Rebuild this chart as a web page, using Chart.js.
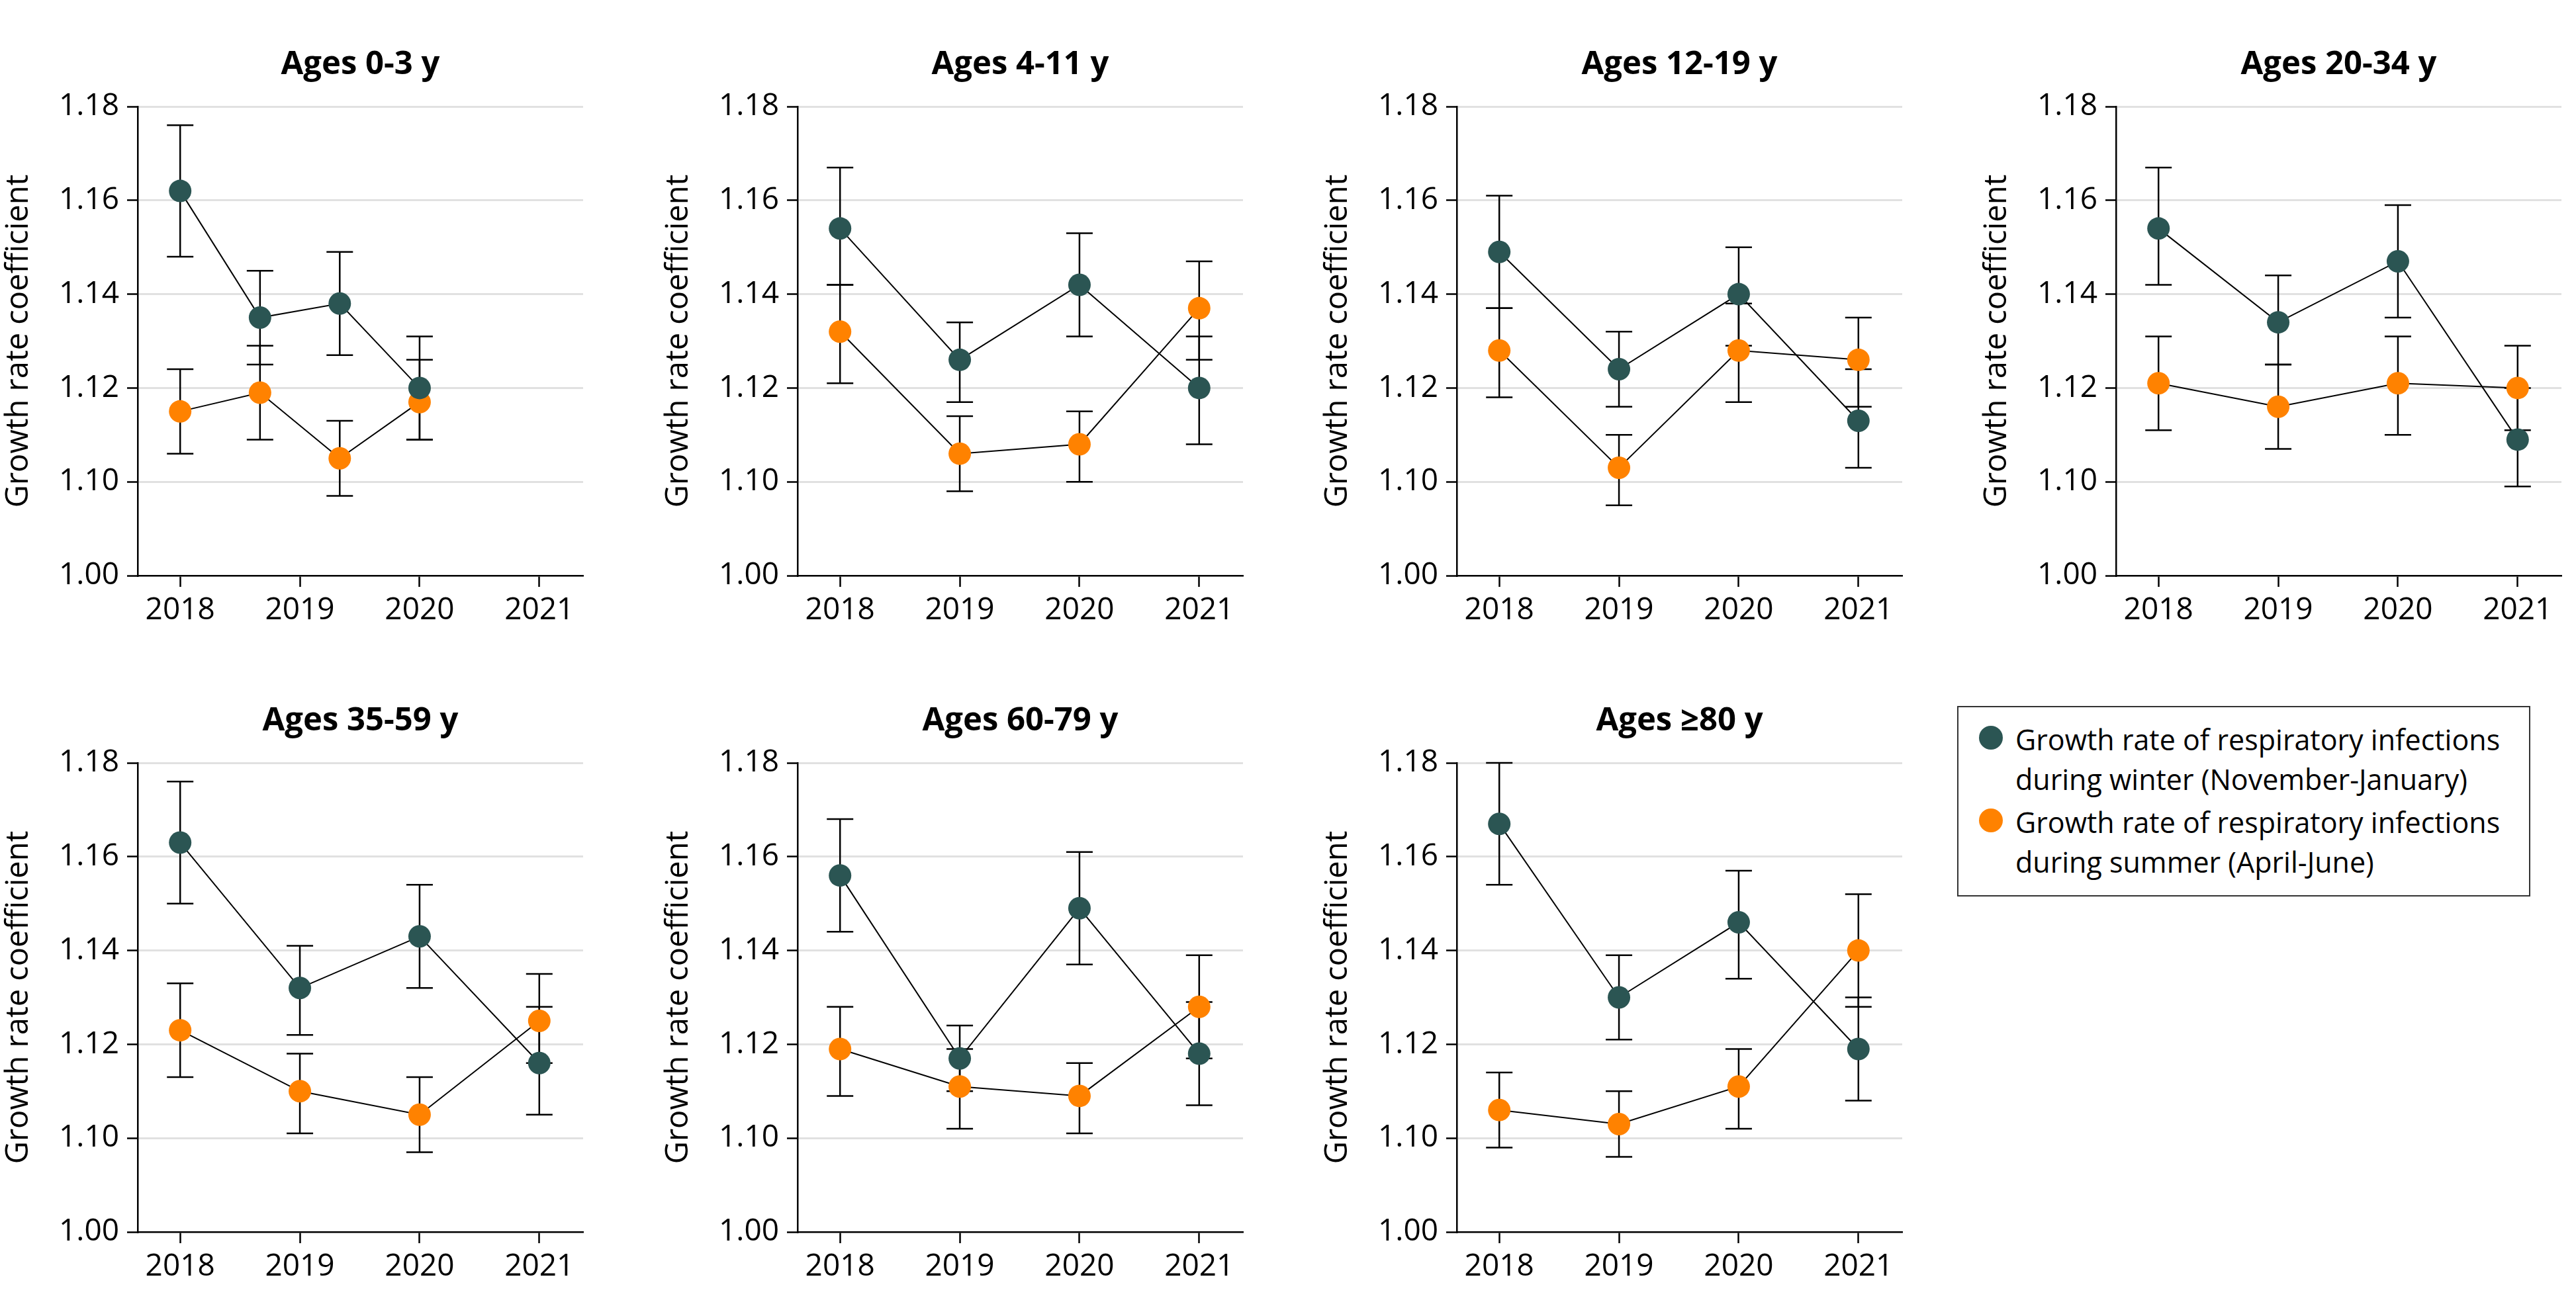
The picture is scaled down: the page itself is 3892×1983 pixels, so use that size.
<!DOCTYPE html>
<html>
<head>
<meta charset="utf-8">
<script src="https://cdn.jsdelivr.net/npm/chart.js@4.4.1/dist/chart.umd.min.js"></script>
<style>
  body {
    margin: 0;
    background: #fff;
    width: 3892px;
    height: 1983px;
    overflow: hidden;
    position: relative;
    font-family: 'Open Sans', sans-serif;
  }
  canvas.panel { position: absolute; }
  #legend {
    position: absolute;
    left: 2957px;
    top: 1067px;
    width: 866px;
    height: 288px;
    box-sizing: border-box;
    border: 2.5px solid #333;
  }
  #legend .item { position: absolute; left: 0; }
  #legend .dot {
    position: absolute;
    left: 31px;
    top: 9px;
    width: 36px;
    height: 36px;
    border-radius: 50%;
  }
  #legend .label {
    position: absolute;
    left: 86px;
    top: 0;
    white-space: nowrap;
    font-size: 43px;
    line-height: 60px;
    color: #000;
  }
</style>
</head>
<body>
<div id="legend">
  <div class="item" style="top: 19px;">
    <span class="dot" style="background: #2b5553;"></span>
    <span class="label">Growth rate of respiratory infections<br>during winter (November-January)</span>
  </div>
  <div class="item" style="top: 144px;">
    <span class="dot" style="background: #ff8200;"></span>
    <span class="label">Growth rate of respiratory infections<br>during summer (April-June)</span>
  </div>
</div>
<script>
// panel titles
const panelTitles = ['Ages 0-3 y', 'Ages 4-11 y', 'Ages 12-19 y', 'Ages 20-34 y',
  'Ages 35-59 y', 'Ages 60-79 y', 'Ages \u226580 y'];

// x positions of the points (first panel is plotted off the year ticks)
const xPositions = [
  [2018, 2018.667, 2019.333, 2020],
  [2018, 2019, 2020, 2021],
  [2018, 2019, 2020, 2021],
  [2018, 2019, 2020, 2021],
  [2018, 2019, 2020, 2021],
  [2018, 2019, 2020, 2021],
  [2018, 2019, 2020, 2021]
];

const yearTicks = [2018, 2019, 2020, 2021];
// broken axis: the lowest tick sits one step below 1.10 but reads 1.00
const yTickValues = [1.08, 1.10, 1.12, 1.14, 1.16, 1.18];
const yTickLabels = ['1.00', '1.10', '1.12', '1.14', '1.16', '1.18'];

// winter (November-January)
const winterMean = [
  [1.162, 1.135, 1.138, 1.120],
  [1.154, 1.126, 1.142, 1.120],
  [1.149, 1.124, 1.140, 1.113],
  [1.154, 1.134, 1.147, 1.109],
  [1.163, 1.132, 1.143, 1.116],
  [1.156, 1.117, 1.149, 1.118],
  [1.167, 1.130, 1.146, 1.119]
];
const winterLow = [
  [1.148, 1.125, 1.127, 1.109],
  [1.142, 1.117, 1.131, 1.108],
  [1.137, 1.116, 1.129, 1.103],
  [1.142, 1.125, 1.135, 1.099],
  [1.150, 1.122, 1.132, 1.105],
  [1.144, 1.110, 1.137, 1.107],
  [1.154, 1.121, 1.134, 1.108]
];
const winterHigh = [
  [1.176, 1.145, 1.149, 1.131],
  [1.167, 1.134, 1.153, 1.131],
  [1.161, 1.132, 1.150, 1.124],
  [1.167, 1.144, 1.159, 1.120],
  [1.176, 1.141, 1.154, 1.128],
  [1.168, 1.124, 1.161, 1.129],
  [1.180, 1.139, 1.157, 1.130]
];

// summer (April-June)
const summerMean = [
  [1.115, 1.119, 1.105, 1.117],
  [1.132, 1.106, 1.108, 1.137],
  [1.128, 1.103, 1.128, 1.126],
  [1.121, 1.116, 1.121, 1.120],
  [1.123, 1.110, 1.105, 1.125],
  [1.119, 1.111, 1.109, 1.128],
  [1.106, 1.103, 1.111, 1.140]
];
const summerLow = [
  [1.106, 1.109, 1.097, 1.109],
  [1.121, 1.098, 1.100, 1.126],
  [1.118, 1.095, 1.117, 1.116],
  [1.111, 1.107, 1.110, 1.111],
  [1.113, 1.101, 1.097, 1.116],
  [1.109, 1.102, 1.101, 1.117],
  [1.098, 1.096, 1.102, 1.128]
];
const summerHigh = [
  [1.124, 1.129, 1.113, 1.126],
  [1.142, 1.114, 1.115, 1.147],
  [1.137, 1.110, 1.138, 1.135],
  [1.131, 1.125, 1.131, 1.129],
  [1.133, 1.118, 1.113, 1.135],
  [1.128, 1.119, 1.116, 1.139],
  [1.114, 1.110, 1.119, 1.152]
];

const WINTER_COLOR = '#2b5553';
const SUMMER_COLOR = '#ff8200';

// plot area placement on the page
const colLeft = [208, 1205, 2201, 3197];
const rowTop = [161, 1153];
const AXIS_W = 208;
const TOP_SPACE = 130;
const PLOT_W = 682;
const PLOT_H = 709;
const BOTTOM_SPACE = 100;

Chart.defaults.font.family = "'Open Sans', sans-serif";
Chart.defaults.color = '#000';

const errorBars = {
  id: 'errorBars',
  beforeDatasetsDraw(chart) {
    const { ctx, scales: { x, y } } = chart;
    ctx.save();
    ctx.strokeStyle = '#000';
    ctx.lineWidth = 2.5;
    chart.data.datasets.forEach(ds => {
      ds.data.forEach(pt => {
        const px = x.getPixelForValue(pt.x);
        const top = y.getPixelForValue(pt.high);
        const bottom = y.getPixelForValue(pt.low);
        ctx.beginPath();
        ctx.moveTo(px, top);
        ctx.lineTo(px, bottom);
        ctx.moveTo(px - 20, top);
        ctx.lineTo(px + 20, top);
        ctx.moveTo(px - 20, bottom);
        ctx.lineTo(px + 20, bottom);
        ctx.stroke();
      });
    });
    ctx.restore();
  }
};

function buildPoints(xs, mean, low, high) {
  return xs.map((x, i) => ({ x: x, y: mean[i], low: low[i], high: high[i] }));
}

function makeDataset(label, color, points) {
  return {
    label: label,
    data: points,
    borderColor: '#000',
    borderWidth: 2,
    backgroundColor: color,
    pointBackgroundColor: color,
    pointBorderWidth: 0,
    pointRadius: 17,
    pointHoverRadius: 17,
    tension: 0
  };
}

panelTitles.forEach((title, p) => {
  const row = p < 4 ? 0 : 1;
  const col = p % 4;
  const canvas = document.createElement('canvas');
  canvas.className = 'panel';
  canvas.width = AXIS_W + PLOT_W + 8;
  canvas.height = TOP_SPACE + PLOT_H + BOTTOM_SPACE;
  canvas.style.left = (colLeft[col] - AXIS_W) + 'px';
  canvas.style.top = (rowTop[row] - TOP_SPACE) + 'px';
  document.body.appendChild(canvas);

  new Chart(canvas.getContext('2d'), {
    type: 'line',
    data: {
      datasets: [
        makeDataset('Winter', WINTER_COLOR,
          buildPoints(xPositions[p], winterMean[p], winterLow[p], winterHigh[p])),
        makeDataset('Summer', SUMMER_COLOR,
          buildPoints(xPositions[p], summerMean[p], summerLow[p], summerHigh[p]))
      ]
    },
    options: {
      responsive: false,
      animation: false,
      events: [],
      layout: {
        padding: { left: 0, right: 8, top: 0, bottom: 0 }
      },
      plugins: {
        legend: { display: false },
        tooltip: { enabled: false },
        title: {
          display: true,
          text: title,
          fullSize: false,
          color: '#000',
          font: { size: 49, weight: 'bold' },
          padding: { top: 37.6, bottom: 33.6 }
        }
      },
      scales: {
        x: {
          type: 'linear',
          min: 2017.645,
          max: 2021.366,
          afterBuildTicks: s => { s.ticks = yearTicks.map(v => ({ value: v })); },
          afterFit: s => { s.height = BOTTOM_SPACE; },
          ticks: {
            color: '#000',
            font: { size: 46 },
            padding: 8,
            maxRotation: 0,
            callback: v => String(v)
          },
          grid: {
            drawOnChartArea: false,
            tickLength: 17,
            tickColor: '#000',
            tickWidth: 2.5
          },
          border: { color: '#000', width: 2.5 }
        },
        y: {
          type: 'linear',
          min: yTickValues[0],
          max: yTickValues[yTickValues.length - 1],
          afterBuildTicks: s => { s.ticks = yTickValues.map(v => ({ value: v })); },
          afterFit: s => { s.width = AXIS_W; },
          ticks: {
            color: '#000',
            font: { size: 46 },
            padding: 12,
            callback: (v, i) => yTickLabels[i]
          },
          grid: {
            color: ctx => (ctx.tick && ctx.tick.value === yTickValues[0]) ? 'rgba(0,0,0,0)' : '#e1e1e1',
            lineWidth: 3,
            tickLength: 16,
            tickColor: '#000',
            tickWidth: 2.5
          },
          border: { color: '#000', width: 2.5 },
          title: {
            display: true,
            text: 'Growth rate coefficient',
            color: '#000',
            font: { size: 47 },
            padding: { top: 0, bottom: 0 }
          }
        }
      }
    },
    plugins: [errorBars]
  });
});
</script>
</body>
</html>
